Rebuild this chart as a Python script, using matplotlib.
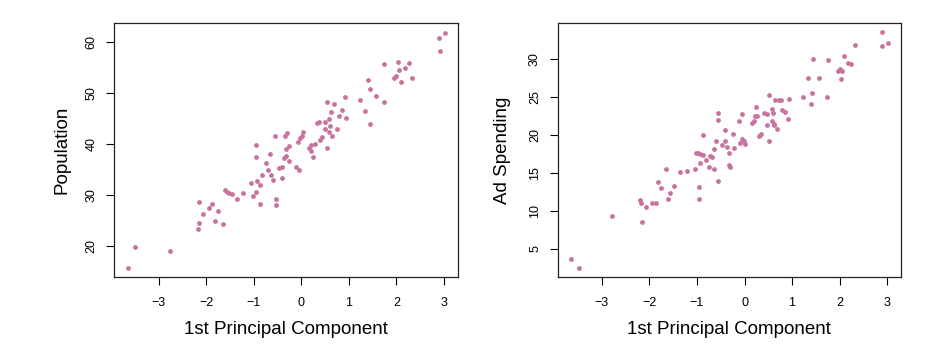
import matplotlib
matplotlib.use("Agg")
import matplotlib.pyplot as plt

plt.rcParams['font.family'] = ['Liberation Sans', 'DejaVu Sans']

# Left panel: 1st principal component vs Population
pc1_pop = [-3.65, -3.49, -2.76, -2.14, -2.18, -2.15, -2.06, -1.94, -1.87, -1.81,
           -1.75, -1.64, -1.61, -1.56, -1.51, -1.46, -1.34, -1.22, -1.05, -1.01,
           -0.96, -0.95, -0.93, -0.86, -0.86, -0.82, -0.75, -0.69, -0.65, -0.63,
           -0.59, -0.54, -0.54, -0.47, -0.40, -0.40, -0.36, -0.33, -0.25, -0.96,
           -0.55, -0.34, -0.30, -0.33, -0.25, -0.10, -0.05, -0.07, -0.03, 0.02,
           0.03, 0.17, 0.20, 0.24, 0.21, 0.30, 0.33, 0.37, 0.40, 0.44,
           0.49, 0.54, 0.55, 0.51, 0.58, 0.60, 0.58, 0.65, 0.63, 0.68,
           0.75, 0.79, 0.86, 0.92, 0.94, 3.02, 2.90, 2.91, 1.75, 2.04,
           2.26, 2.06, 2.19, 1.96, 1.99, 2.10, 2.33, 1.40, 1.44, 1.57,
           1.75, 1.23, 1.34, 1.45]
population = [15.8, 19.8, 19.0, 28.6, 23.4, 24.5, 26.4, 27.5, 28.3, 25.0,
              27.0, 24.4, 31.05, 30.6, 30.4, 30.2, 29.2, 30.5, 32.3, 29.8,
              30.7, 37.5, 32.75, 28.3, 32.0, 33.9, 36.2, 34.9, 38.0, 34.0,
              32.9, 29.3, 28.0, 35.4, 35.6, 33.3, 37.2, 37.6, 36.7, 39.9,
              41.6, 41.6, 42.1, 39.0, 39.6, 35.55, 34.9, 40.3, 41.2, 41.6,
              42.3, 39.3, 38.7, 37.4, 39.9, 40.1, 44.1, 44.4, 40.8, 41.4,
              44.4, 48.2, 39.3, 42.9, 44.9, 43.6, 42.4, 41.5, 46.2, 47.8,
              42.85, 45.4, 46.7, 49.1, 45.1, 61.8, 60.8, 58.2, 55.6, 56.0,
              55.9, 54.5, 54.8, 53.0, 53.3, 52.2, 53.0, 52.5, 50.7, 49.4,
              48.2, 48.7, 46.4, 43.9]

# Right panel: 1st principal component vs Ad Spending
pc1_ad = [-3.66, -3.49, -2.78, -2.20, -2.17, -2.15, -2.07, -1.95, -1.87, -1.82,
          -1.75, -1.65, -1.62, -1.56, -1.48, -1.35, -1.22, -1.05, -1.02, -0.98,
          -0.94, -0.93, -0.95, -0.96, -0.87, -0.82, -0.75, -0.72, -0.69, -0.65,
          -0.56, -0.33, -0.33, -0.31, -0.87, -0.55, -0.55, -0.41, -0.24, -0.06,
          -0.11, 0.24, 0.19, 0.16, 0.23, 0.27, 0.30, -0.60, -0.47, -0.40,
          -0.36, -0.22, -0.64, -0.05, -0.01, 0.01, -0.09, 0.34, 0.41, 0.47,
          0.48, 0.51, 0.51, 2.90, 3.01, 2.89, 2.33, 2.10, 2.18, 2.25,
          1.96, 2.00, 2.05, 2.03, 1.75, 1.45, 1.33, 1.56, 1.43, 1.39,
          1.74, 1.22, 0.93, 0.73, 0.64, 0.76, 0.58, 0.59, 0.78, 0.86,
          0.92, 0.58, 0.61, 0.63, 0.68]
ad_spending = [3.68, 2.5, 9.3, 11.5, 11.1, 8.6, 10.6, 11.1, 11.1, 13.8,
               13.0, 15.6, 11.6, 12.4, 13.3, 15.1, 15.3, 15.6, 17.6, 17.6,
               17.55, 16.3, 13.2, 11.65, 17.45, 16.7, 15.8, 17.3, 17.1, 15.5,
               14.0, 17.7, 16.1, 15.8, 20.0, 22.9, 22.0, 20.75, 20.1, 22.8,
               21.9, 23.7, 21.85, 21.6, 22.5, 22.5, 19.9, 19.3, 18.7, 19.2,
               18.5, 18.3, 18.2, 19.55, 19.2, 18.9, 19.0, 20.1, 22.9, 22.8,
               21.3, 25.3, 19.25, 33.55, 32.2, 31.7, 31.9, 30.4, 29.5, 29.45,
               28.5, 28.7, 28.5, 27.4, 29.9, 30.0, 27.5, 27.5, 25.5, 24.05,
               25.05, 25.0, 24.8, 24.6, 24.6, 24.6, 23.4, 22.9, 23.3, 23.1,
               22.1, 21.85, 21.5, 21.3, 20.8]

x_ticks = [-3, -2, -1, 0, 1, 2, 3]
pop_ticks = [20, 30, 40, 50, 60]
ad_ticks = [5, 10, 15, 20, 25, 30]

color = '#C8729F'

fig = plt.figure(figsize=(9.47, 3.63), dpi=100)
ax1 = fig.add_axes([114.3 / 947, 1 - 277.3 / 363, 343.4 / 947, 254 / 363])
ax2 = fig.add_axes([557.7 / 947, 1 - 277.3 / 363, 343.2 / 947, 254 / 363])

panels = [
    (ax1, pc1_pop, population, pop_ticks, (13.95, 63.6), 'Population', -0.152),
    (ax2, pc1_ad, ad_spending, ad_ticks, (1.27, 34.75), 'Ad Spending', -0.160),
]

for ax, xs, ys, yt, ylim, ylab, ylx in panels:
    ax.scatter(xs, ys, s=12, c=color, linewidths=0)
    ax.set_xlim(-3.93, 3.29)
    ax.set_ylim(*ylim)
    ax.set_xticks(x_ticks)
    ax.set_xticklabels(['\u22123', '\u22122', '\u22121', '0', '1', '2', '3'])
    ax.set_yticks(yt)
    ax.set_yticklabels([str(v) for v in yt], rotation=90, va='center')
    ax.tick_params(axis='both', direction='out', length=5.5, width=0.8,
                   labelsize=9, color='black')
    ax.tick_params(axis='x', pad=8.5)
    ax.tick_params(axis='y', pad=6.5)
    for sp in ax.spines.values():
        sp.set_linewidth(0.9)
        sp.set_color('#222222')
    ax.set_xlabel('1st Principal Component', fontsize=13.5, va='center')
    ax.xaxis.set_label_coords(0.5, -0.207)
    ax.set_ylabel(ylab, fontsize=13.5, va='center')
    ax.yaxis.set_label_coords(ylx, 0.5)

fig.savefig('out.png', dpi=100)
